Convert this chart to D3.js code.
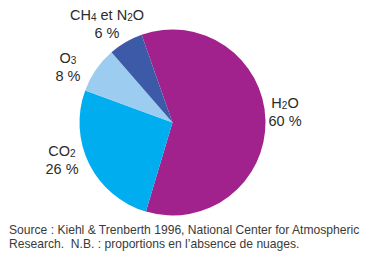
<!DOCTYPE html>
<html>
<head>
<meta charset="utf-8">
<script src="https://cdn.jsdelivr.net/npm/d3@7"></script>
<style>
  html, body { margin: 0; padding: 0; background: #fff; }
  svg { display: block; }
  text { font-family: "Liberation Sans", Arial, Helvetica, sans-serif; fill: #2b2b2b; white-space: pre; }
</style>
</head>
<body>
<svg id="chart" width="370" height="253"></svg>
<script>
// Data
const gases = ["H2O", "CO2", "O3", "CH4 et N2O"];
const shares = [60, 26, 8, 6];
const colors = ["#A2228D", "#00AEEF", "#9CCDF0", "#3D5AA8"];
// label pieces: [text, isSubscript]
const labelParts = [
  [["H", false], ["2", true], ["O", false]],
  [["CO", false], ["2", true]],
  [["O", false], ["3", true]],
  [["CH", false], ["4", true], [" et N", false], ["2", true], ["O", false]]
];
const source = [
  "Source : Kiehl & Trenberth 1996, National Center for Atmospheric",
  "Research.  N.B. : proportions en l\u2019absence de nuages."
];

const svg = d3.select("#chart");
const cx = 172.5, cy = 122.5, r = 93;
const start = -19.4 * Math.PI / 180;

const pie = d3.pie().sort(null).value(d => d.v)
  .startAngle(start).endAngle(start + 2 * Math.PI);
const arc = d3.arc().innerRadius(0).outerRadius(r);
const data = gases.map((g, i) => ({ g, v: shares[i], i }));

const g = svg.append("g").attr("transform", `translate(${cx},${cy})`);
g.selectAll("path").data(pie(data)).join("path")
  .attr("d", arc)
  .attr("fill", d => colors[d.data.i]);

// label layout (centre x, baseline y of first line)
const labelPos = [[285, 108], [62, 156], [68, 63], [107, 20]];
const lab = svg.append("g");
data.forEach((d, i) => {
  const [x, y] = labelPos[i];
  const t = lab.append("text").attr("x", x).attr("y", y)
    .attr("text-anchor", "middle").attr("font-size", 14.5);
  labelParts[i].forEach(([s, sub], k) => {
    const prev = k > 0 ? labelParts[i][k - 1][1] : false;
    let dy = 0;
    if (sub && !prev) dy = 1;
    if (!sub && prev) dy = -1;
    const ts = t.append("tspan").text(s).attr("dy", dy);
    if (sub) ts.attr("font-size", 10);
  });
  lab.append("text").attr("x", x).attr("y", y + 18)
    .attr("text-anchor", "middle").attr("font-size", 14.5)
    .text(d.v + " %");
});

// source
svg.append("g").selectAll("text").data(source).join("text")
  .attr("x", 9).attr("y", (d, i) => 234 + i * 14)
  .attr("font-size", 12.1).style("fill", "#3a3a3a")
  .text(d => d);
</script>
</body>
</html>
